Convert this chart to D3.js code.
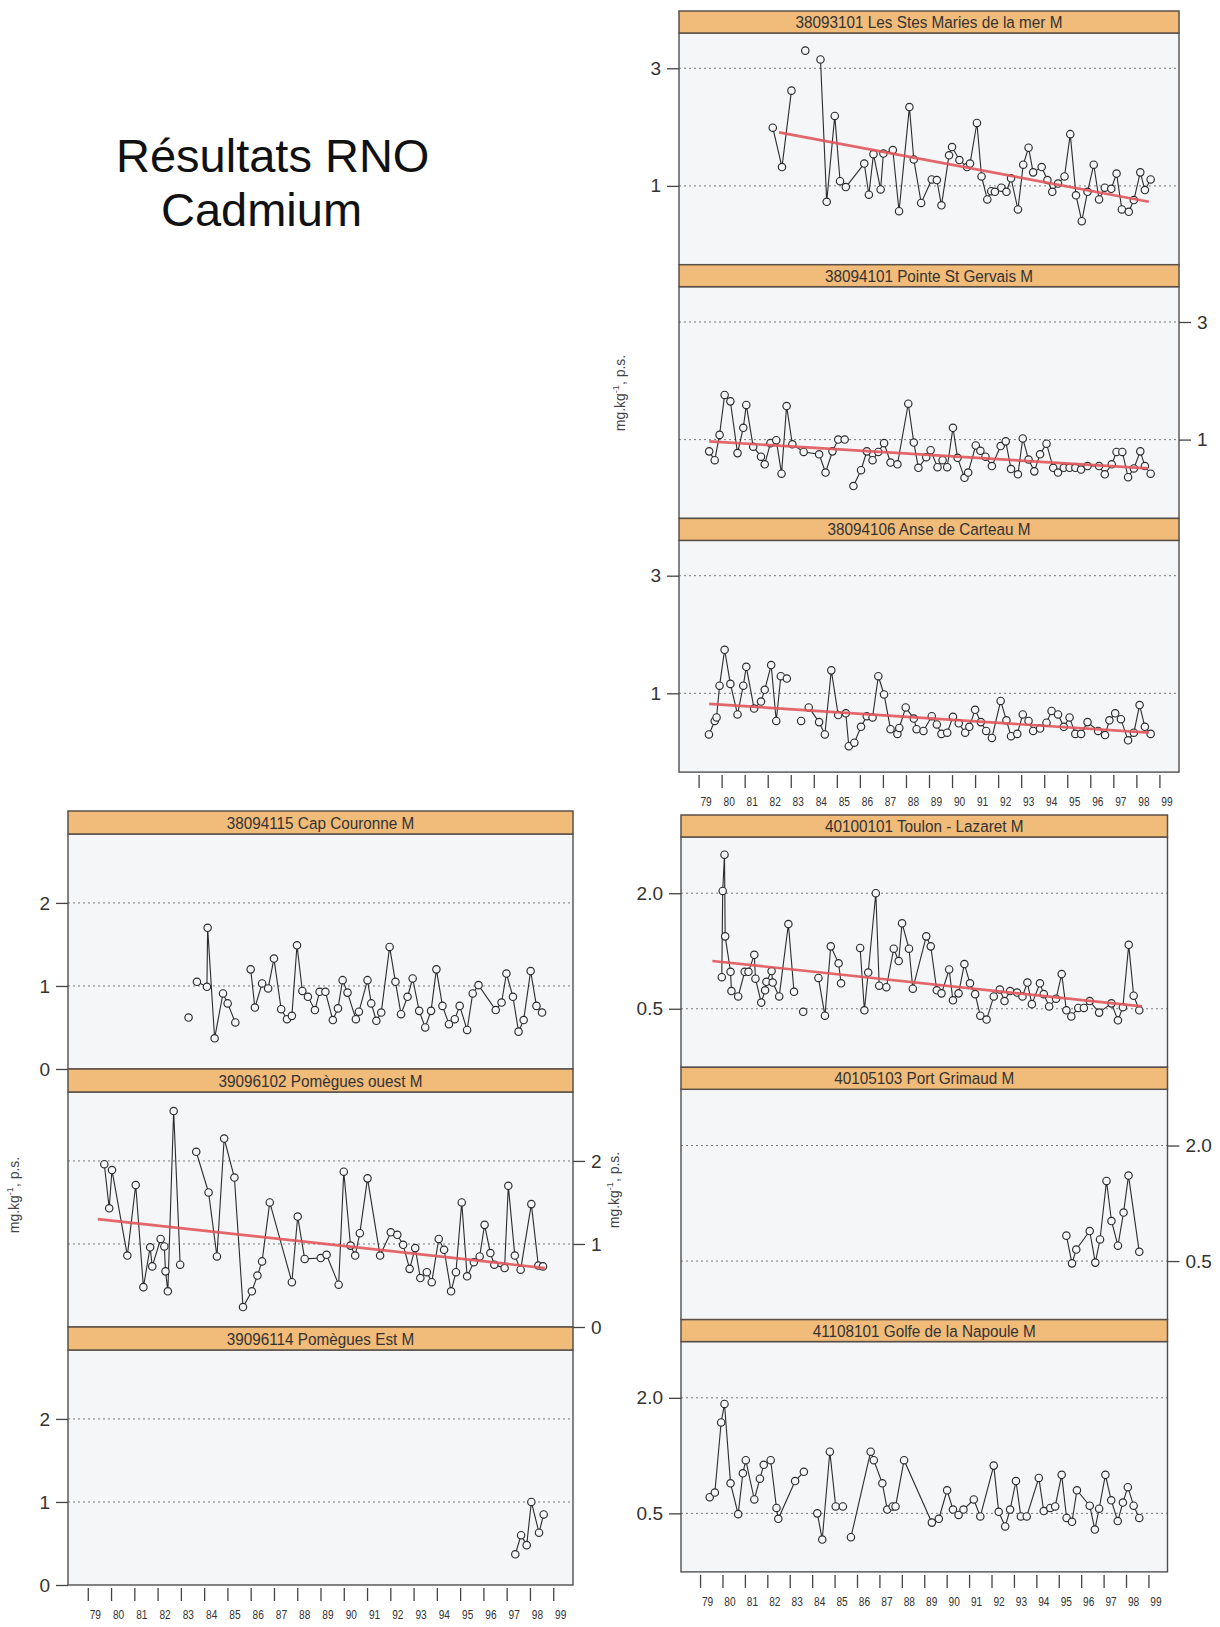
<!DOCTYPE html>
<html><head><meta charset="utf-8">
<script src="https://cdn.jsdelivr.net/npm/d3@7"></script>
<style>
body{margin:0;background:#fff;}
svg{display:block;font-family:"Liberation Sans",Arial,sans-serif;}
</style></head><body>
<svg id="chart" width="1220" height="1627"></svg>
<script>
// ---------- DATA ----------
const titleLines = ["Résultats RNO", "Cadmium"];
const yTitleMain = "mg.kg";
const yTitleSup = "-1";
const yTitleEnd = ", p.s.";
const yearTicks = [79,80,81,82,83,84,85,86,87,88,89,90,91,92,93,94,95,96,97,98,99];
const yearTickLabels = ["79","80","81","82","83","84","85","86","87","88","89","90","91","92","93","94","95","96","97","98","99"];

const rightTopTicks = [1, 3];
const rightBottomTicks = [0.5, 2.0];
const leftTicks = [0, 1, 2];

const stationNames = [
  "38093101 Les Stes Maries de la mer M",
  "38094101 Pointe St Gervais M",
  "38094106 Anse de Carteau M",
  "40100101 Toulon - Lazaret M",
  "40105103 Port Grimaud M",
  "41108101 Golfe de la Napoule M",
  "38094115 Cap Couronne M",
  "39096102 Pomègues ouest M",
  "39096114 Pomègues Est M"
];

// null = break in the line
const stMariesYears = [82.22,82.62,83.03,null,83.63,null,84.29,84.56,84.91,85.14,85.39,86.19,86.39,86.59,86.90,87.02,87.43,87.70,88.15,88.34,88.66,89.12,89.34,89.54,89.87,90.00,90.32,90.65,90.78,91.08,91.28,91.53,91.70,91.86,92.14,92.36,92.56,92.86,93.09,93.32,93.52,93.89,94.14,94.35,94.60,94.88,95.13,95.38,95.63,95.88,96.15,96.38,96.63,96.91,97.14,97.37,97.67,97.89,98.17,98.37,98.62];
const stMariesValues = [1.99,1.32,2.62,null,3.30,null,3.15,0.73,2.19,1.08,0.98,1.38,0.85,1.54,0.94,1.55,1.61,0.57,2.34,1.45,0.71,1.11,1.10,0.67,1.52,1.66,1.44,1.32,1.38,2.07,1.16,0.77,0.91,0.90,0.97,0.90,1.13,0.60,1.36,1.65,1.23,1.32,1.10,0.90,1.04,1.16,1.88,0.84,0.40,0.90,1.36,0.77,0.97,0.95,1.21,0.60,0.56,0.76,1.23,0.93,1.11];
const stMariesTrendYears = [82.49, 98.54];
const stMariesTrendValues = [1.91, 0.73];

const stGervaisYears = [79.46,79.70,79.91,80.13,80.38,80.69,80.94,81.07,81.37,81.71,81.87,82.12,82.37,82.60,82.82,83.07,83.56,84.23,84.51,84.81,85.06,85.34,null,85.72,86.05,86.30,86.55,86.80,87.05,87.33,87.63,88.10,88.34,88.54,88.88,89.07,89.37,89.59,89.79,90.04,90.24,90.54,90.70,91.03,91.23,91.45,91.73,92.11,92.33,92.56,92.86,93.07,93.32,93.57,93.82,94.10,94.39,94.60,94.85,95.10,95.35,95.60,95.88,96.38,96.63,96.93,97.14,97.39,97.64,97.89,98.17,98.37,98.62];
const stGervaisValues = [0.80,0.65,1.08,1.76,1.65,0.77,1.20,1.59,0.88,0.71,0.58,0.94,0.99,0.42,1.57,0.92,0.79,0.75,0.44,0.80,1.00,1.00,null,0.21,0.48,0.80,0.65,0.79,0.94,0.61,0.58,1.61,0.95,0.52,0.70,0.82,0.53,0.65,0.53,1.20,0.69,0.35,0.44,0.90,0.81,0.71,0.55,0.89,0.97,0.50,0.41,1.02,0.66,0.46,0.75,0.93,0.52,0.44,0.52,0.52,0.52,0.49,0.55,0.55,0.41,0.58,0.79,0.79,0.36,0.51,0.80,0.55,0.42];
const stGervaisTrendYears = [79.46, 98.50];
const stGervaisTrendValues = [0.97, 0.51];

const carteauYears = [79.45,79.70,79.78,79.91,80.13,80.38,80.69,80.94,81.07,81.41,81.71,81.87,82.15,82.37,82.57,82.83,null,83.45,null,83.78,84.23,84.48,84.76,85.06,85.39,85.52,85.76,86.05,86.30,86.55,86.80,87.05,87.33,87.63,87.71,87.99,88.34,88.46,88.76,89.12,89.34,89.54,89.79,90.04,90.29,90.57,90.75,91.00,91.25,91.48,91.73,92.11,92.36,92.56,92.83,93.07,93.32,93.52,93.82,94.10,94.32,94.60,94.85,95.10,95.35,95.60,95.88,96.34,96.64,96.83,97.08,97.33,97.64,97.89,98.14,98.37,98.62];
const carteauValues = [0.30,0.53,0.59,1.13,1.74,1.16,0.64,1.13,1.45,0.74,0.86,1.06,1.48,0.53,1.29,1.25,null,0.53,null,0.76,0.51,0.30,1.39,0.63,0.66,0.10,0.16,0.43,0.61,0.59,1.29,0.98,0.39,0.31,0.41,0.76,0.57,0.39,0.36,0.61,0.47,0.31,0.33,0.60,0.49,0.33,0.43,0.72,0.51,0.36,0.24,0.87,0.54,0.27,0.31,0.64,0.53,0.36,0.40,0.50,0.70,0.64,0.43,0.59,0.31,0.31,0.51,0.36,0.29,0.54,0.66,0.56,0.20,0.33,0.80,0.43,0.31];
const carteauTrendYears = [79.46, 98.54];
const carteauTrendValues = [0.82, 0.33];

const toulonYears = [79.97,80.01,80.09,80.12,80.36,80.40,80.70,80.99,81.16,81.42,81.47,81.73,81.90,81.96,82.19,82.24,82.53,82.94,83.19,null,83.60,null,84.28,84.57,84.83,85.18,85.29,null,86.14,86.33,86.50,86.84,86.99,87.31,87.64,87.86,88.01,88.32,88.49,89.09,89.29,89.56,89.77,90.11,90.28,90.53,90.79,91.04,91.27,91.50,91.78,92.10,92.37,92.58,92.83,93.14,93.38,93.60,93.80,94.16,94.33,94.57,94.88,95.13,95.34,95.56,95.87,96.12,96.38,96.80,97.35,97.64,97.86,98.12,98.34,98.59];
const toulonValues = [0.91,2.03,2.50,1.44,0.98,0.73,0.66,0.98,0.98,1.20,0.89,0.58,0.74,0.85,0.99,0.84,0.66,1.60,0.72,null,0.46,null,0.90,0.41,1.31,1.09,0.83,null,1.29,0.48,0.97,2.00,0.80,0.78,1.28,1.12,1.61,1.28,0.76,1.44,1.31,0.74,0.70,1.01,0.61,0.70,1.08,0.83,0.69,0.41,0.36,0.66,0.75,0.60,0.73,0.71,0.66,0.84,0.56,0.83,0.69,0.53,0.63,0.95,0.48,0.40,0.51,0.51,0.60,0.45,0.57,0.35,0.52,1.33,0.67,0.48];
const toulonTrendYears = [79.55, 98.71];
const toulonTrendValues = [1.12, 0.53];

const grimaudYears = [95.34,95.59,95.78,96.38,96.63,96.84,97.13,97.35,97.64,97.89,98.11,98.59];
const grimaudValues = [0.83,0.47,0.65,0.89,0.48,0.78,1.54,1.02,0.70,1.13,1.61,0.62];

const napouleYears = [79.43,79.66,79.94,80.09,80.36,80.70,80.91,81.04,81.42,81.67,81.84,82.15,82.41,82.49,83.24,83.63,null,84.23,84.45,84.79,85.05,85.37,null,85.73,86.61,86.75,87.13,87.35,87.59,87.72,88.10,89.34,89.65,90.02,90.28,90.53,90.75,91.21,91.50,92.10,92.32,92.61,92.83,93.09,93.31,93.57,94.11,94.33,94.62,94.84,95.13,95.35,95.59,95.81,96.38,96.61,96.80,97.08,97.34,97.63,97.86,98.08,98.34,98.59];
const napouleValues = [0.71,0.77,1.68,1.92,0.89,0.49,1.02,1.19,0.68,0.95,1.13,1.19,0.57,0.43,0.92,1.04,null,0.50,0.16,1.30,0.59,0.59,null,0.19,1.30,1.19,0.89,0.55,0.59,0.59,1.19,0.38,0.43,0.80,0.55,0.48,0.55,0.68,0.46,1.12,0.52,0.33,0.55,0.92,0.46,0.46,0.96,0.53,0.57,0.59,1.00,0.44,0.39,0.80,0.60,0.29,0.56,1.00,0.67,0.40,0.64,0.84,0.60,0.44];

const couronneYears = [83.33,null,83.69,84.12,84.15,84.45,84.81,85.01,85.34,null,86.00,86.18,86.49,86.75,87.00,87.31,87.56,87.77,87.99,88.22,88.46,88.76,88.96,89.21,89.53,89.75,89.95,90.16,90.52,90.65,91.02,91.18,91.40,91.61,91.97,92.22,92.46,92.74,92.96,93.24,93.50,93.75,93.98,94.24,94.52,94.77,94.98,95.30,95.54,95.79,96.53,96.78,96.99,97.27,97.51,97.73,98.03,98.28,98.52];
const couronneValues = [0.62,null,1.05,0.99,1.70,0.37,0.91,0.79,0.56,null,1.20,0.74,1.03,0.97,1.33,0.72,0.60,0.64,1.49,0.94,0.87,0.71,0.93,0.93,0.59,0.73,1.07,0.92,0.60,0.69,1.07,0.79,0.58,0.68,1.47,1.05,0.66,0.87,1.09,0.70,0.50,0.70,1.20,0.76,0.54,0.60,0.76,0.47,0.91,1.01,0.71,0.80,1.15,0.87,0.45,0.59,1.18,0.76,0.68];

const pomOuestYears = [79.71,79.92,80.04,80.70,81.06,81.39,81.68,81.77,82.13,82.29,82.34,82.44,82.69,82.97,null,83.66,84.19,84.55,84.86,85.30,85.67,86.05,86.29,86.49,86.82,87.77,88.02,88.32,89.01,89.26,89.78,90.00,90.29,90.49,90.69,91.02,91.56,92.02,92.30,92.55,92.83,93.07,93.29,93.57,93.78,94.08,94.31,94.61,94.82,95.07,95.30,95.59,95.84,96.05,96.30,96.47,96.91,97.07,97.35,97.60,98.06,98.36,98.56];
const pomOuestValues = [1.96,1.43,1.89,0.86,1.71,0.48,0.96,0.73,1.06,0.97,0.67,0.43,2.60,0.75,null,2.11,1.62,0.85,2.27,1.80,0.24,0.43,0.62,0.79,1.50,0.54,1.33,0.82,0.83,0.87,0.51,1.87,0.98,0.86,1.13,1.79,0.86,1.14,1.11,0.99,0.70,0.95,0.59,0.66,0.54,1.06,0.93,0.43,0.66,1.50,0.61,0.78,0.85,1.23,0.89,0.75,0.71,1.70,0.86,0.69,1.48,0.74,0.73];
const pomOuestTrendYears = [79.43, 98.64];
const pomOuestTrendValues = [1.30, 0.71];

const pomEstYears = [97.37,97.62,97.86,98.06,98.39,98.59];
const pomEstValues = [0.37,0.60,0.48,1.00,0.63,0.85];

// ---------- LAYOUT ----------
const svg = d3.select("#chart");
const C = {
  header: "#f1bb79", headerStroke: "#5a5048", frame: "#505050",
  plotBg: "#f5f6f8", grid: "#7a7a7a", line: "#2b2b2b", trend: "#e0565a", text: "#333"
};
function pts(xs, vs){ return xs.map((x,i)=>({x:x, v:vs[i]})); }

const groups = [
  {x0:679, x1:1179, top:11, ph:253.7, hh:22, yDom:[-0.34,3.6], ticks:rightTopTicks, fmt:d3.format("d"), title:[625,393],
   panels:[
     {name:stationNames[0], data:pts(stMariesYears,stMariesValues), trend:pts(stMariesTrendYears,stMariesTrendValues)},
     {name:stationNames[1], data:pts(stGervaisYears,stGervaisValues), trend:pts(stGervaisTrendYears,stGervaisTrendValues)},
     {name:stationNames[2], data:pts(carteauYears,carteauValues), trend:pts(carteauTrendYears,carteauTrendValues)}
   ]},
  {x0:681, x1:1167.5, top:815, ph:252.3, hh:22, yDom:[-0.26,2.73], ticks:rightBottomTicks, fmt:d3.format(".1f"), title:[619,1190],
   panels:[
     {name:stationNames[3], data:pts(toulonYears,toulonValues), trend:pts(toulonTrendYears,toulonTrendValues)},
     {name:stationNames[4], data:pts(grimaudYears,grimaudValues), trend:null},
     {name:stationNames[5], data:pts(napouleYears,napouleValues), trend:null}
   ]},
  {x0:68, x1:573, top:811, ph:258, hh:23, yDom:[0,2.83], ticks:leftTicks, fmt:d3.format("d"), title:[19,1195],
   panels:[
     {name:stationNames[6], data:pts(couronneYears,couronneValues), trend:null},
     {name:stationNames[7], data:pts(pomOuestYears,pomOuestValues), trend:pts(pomOuestTrendYears,pomOuestTrendValues)},
     {name:stationNames[8], data:pts(pomEstYears,pomEstValues), trend:null}
   ]}
];

// title
svg.append("text").attr("x",116).attr("y",172).attr("font-size",47).attr("fill","#111").text(titleLines[0]);
svg.append("text").attr("x",161).attr("y",226).attr("font-size",47).attr("fill","#111").text(titleLines[1]);

groups.forEach(g => {
  const x = d3.scaleLinear().domain([78.15, 99.85]).range([g.x0, g.x1]);
  g.panels.forEach((p, i) => {
    const top = g.top + i*g.ph;
    const pTop = top + g.hh, pBot = top + g.ph;
    const y = d3.scaleLinear().domain(g.yDom).range([pBot, pTop]);
    const G = svg.append("g");
    G.append("rect").attr("x",g.x0).attr("y",pTop).attr("width",g.x1-g.x0).attr("height",pBot-pTop).attr("fill",C.plotBg);
    G.selectAll("line.grid").data(g.ticks.filter(t => t > g.yDom[0])).enter().append("line")
      .attr("x1",g.x0).attr("x2",g.x1).attr("y1",d=>y(d)).attr("y2",d=>y(d))
      .attr("stroke",C.grid).attr("stroke-width",1).attr("stroke-dasharray","2,3");
    const line = d3.line().defined(d => d.v != null).x(d => x(d.x)).y(d => y(d.v));
    G.append("path").datum(p.data).attr("d",line).attr("fill","none").attr("stroke",C.line).attr("stroke-width",1.1);
    G.selectAll("circle").data(p.data.filter(d => d.v != null)).enter().append("circle")
      .attr("cx",d=>x(d.x)).attr("cy",d=>y(d.v)).attr("r",3.7)
      .attr("fill",C.plotBg).attr("stroke",C.line).attr("stroke-width",1.15);
    if (p.trend) {
      G.append("path").datum(p.trend).attr("d",d3.line().x(d=>x(d.x)).y(d=>y(d.v)))
        .attr("stroke",C.trend).attr("stroke-width",2.7).attr("opacity",0.9).attr("fill","none");
    }
    G.append("rect").attr("x",g.x0).attr("y",pTop).attr("width",g.x1-g.x0).attr("height",pBot-pTop)
      .attr("fill","none").attr("stroke",C.frame).attr("stroke-width",1.4);
    G.append("rect").attr("x",g.x0).attr("y",top).attr("width",g.x1-g.x0).attr("height",g.hh)
      .attr("fill",C.header).attr("stroke",C.headerStroke).attr("stroke-width",1.5);
    G.append("g").attr("transform",`translate(${(g.x0+g.x1)/2},${top+g.hh/2+6}) scale(0.9,1)`)
      .append("text").attr("text-anchor","middle").attr("font-size",17).attr("fill",C.text).text(p.name);
    const left = (i % 2 === 0);
    const ax = (left ? d3.axisLeft(y) : d3.axisRight(y)).tickValues(g.ticks).tickFormat(g.fmt).tickSize(12).tickPadding(6);
    const A = G.append("g").attr("transform",`translate(${left ? g.x0 : g.x1},0)`).call(ax);
    A.select(".domain").remove();
    A.selectAll("line").attr("stroke","#444").attr("stroke-width",1.3);
    A.selectAll("text").attr("font-size",19).attr("fill",C.text).attr("font-family","Liberation Sans, Arial, sans-serif");
  });
  const bottom = g.top + 3*g.ph;
  const xa = d3.axisBottom(x).tickValues(yearTicks).tickFormat((d,k)=>yearTickLabels[k]).tickSize(13).tickPadding(9);
  const X = svg.append("g").attr("transform",`translate(0,${bottom+3})`).call(xa);
  X.select(".domain").remove();
  X.selectAll("line").attr("stroke","#444").attr("stroke-width",1.3);
  X.selectAll("text").attr("font-size",13).attr("fill",C.text).attr("font-family","Liberation Sans, Arial, sans-serif")
    .attr("transform","translate(7,0) scale(0.78,1)");
  const t = svg.append("text").attr("transform",`translate(${g.title[0]},${g.title[1]}) rotate(-90)`)
    .attr("text-anchor","middle").attr("font-size",14).attr("fill","#444");
  t.append("tspan").text(yTitleMain);
  t.append("tspan").attr("font-size",9).attr("dy",-6).text(yTitleSup);
  t.append("tspan").attr("dy",6).text(yTitleEnd);
});
</script>
</body></html>
